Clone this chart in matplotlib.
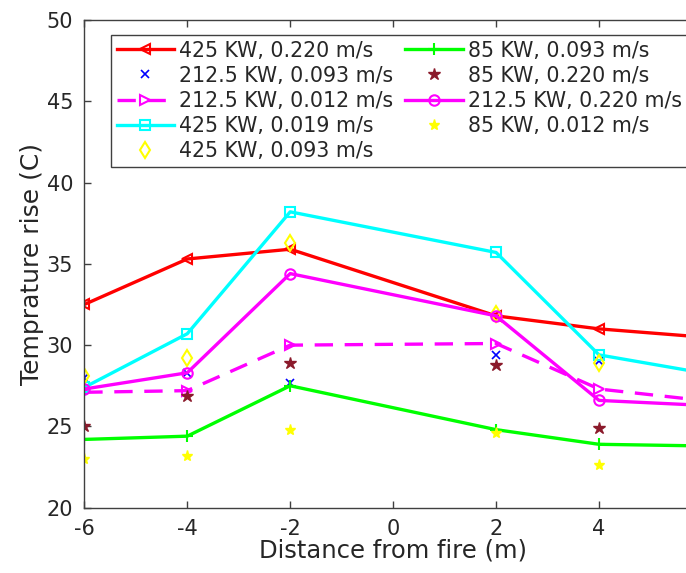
import matplotlib
matplotlib.use("Agg")
import matplotlib.pyplot as plt

x_full = [-6, -4, -2, 2, 4, 6]
x_pts = [-6, -4, -2, 2, 4]

red_425_0220 = [32.5, 35.3, 35.9, 31.8, 31.0, 30.5]
blue_2125_0093 = [28.0, 28.3, 27.7, 29.4, 29.0]
mag_2125_0012 = [27.1, 27.2, 30.0, 30.1, 27.3, 26.6]
cyan_425_0019 = [27.4, 30.7, 38.2, 35.7, 29.4, 28.3]
diam_425_0093 = [28.1, 29.2, 36.3, 31.9, 28.9]
green_85_0093 = [24.2, 24.4, 27.5, 24.8, 23.9, 23.8]
star_85_0220 = [25.0, 26.9, 28.9, 28.8, 24.9]
mag_2125_0220 = [27.3, 28.3, 34.4, 31.8, 26.6, 26.3]
ystar_85_0012 = [23.0, 23.2, 24.8, 24.6, 22.6]

labels = ["425 KW, 0.220 m/s", "212.5 KW, 0.093 m/s", "212.5 KW, 0.012 m/s",
          "425 KW, 0.019 m/s", "425 KW, 0.093 m/s", "85 KW, 0.093 m/s",
          "85 KW, 0.220 m/s", "212.5 KW, 0.220 m/s", "85 KW, 0.012 m/s"]
xticks = [-6, -4, -2, 0, 2, 4]
yticks = [20, 25, 30, 35, 40, 45, 50]

plt.rcParams['font.family'] = ['DejaVu Sans']
W, H = 686, 573
fig = plt.figure(figsize=(W/100, H/100), dpi=100)
ax = fig.add_axes([84.3/W, (H-507.7)/H, 617.7/W, 487.7/H])

lw = 2.4
ms = 7.5
ax.plot(x_full, red_425_0220, color='#ff0000', lw=lw, marker='<', ms=ms, mfc='none', mew=1.5, label=labels[0])
ax.plot(x_pts, blue_2125_0093, color='#0000ff', lw=0, marker='x', ms=6, mew=1.2, label=labels[1])
ax.plot(x_full, mag_2125_0012, color='#ff00ff', lw=lw, ls=(0, (5.5, 3.5)), marker='>', ms=ms, mfc='none', mew=1.5, label=labels[2])
ax.plot(x_full, cyan_425_0019, color='#00ffff', lw=lw, marker='s', ms=6.5, mfc='none', mew=1.5, label=labels[3])
ax.plot(x_pts, diam_425_0093, color='#ffff00', lw=0, marker='d', ms=ms+1, mfc='none', mew=1.5, label=labels[4])
ax.plot(x_full, green_85_0093, color='#00ff00', lw=lw, marker='+', ms=ms+1, mew=1.5, label=labels[5])
ax.plot(x_pts, star_85_0220, color='#8b1a2b', lw=0, marker='*', ms=9, mew=1.0, label=labels[6])
ax.plot(x_full, mag_2125_0220, color='#ff00ff', lw=lw, marker='o', ms=ms, mfc='none', mew=1.5, label=labels[7])
ax.plot(x_pts, ystar_85_0012, color='#ffff00', lw=0, marker='*', ms=8, mew=1.0, label=labels[8])

ax.set_xlim(-6, 6)
ax.set_ylim(20, 50)
ax.set_xticks(xticks)
ax.set_yticks(yticks)
ax.set_xticklabels([str(t) for t in xticks])
ax.tick_params(direction='in', length=5, width=1, colors='#404040', labelcolor='#262626',
               labelsize=15, top=True, right=True, pad=8)
for s in ax.spines.values():
    s.set_color('#404040')
    s.set_linewidth(1.0)

ax.set_xlabel('Distance from fire (m)', fontsize=17.5, color='#262626', labelpad=0)
ax.set_ylabel('Temprature rise (C)', fontsize=18, color='#262626', labelpad=2)

leg = ax.legend(ncol=2, loc='upper left', bbox_to_anchor=(111/W, 1-35/H), bbox_transform=fig.transFigure,
                borderaxespad=0, fancybox=False, edgecolor='#404040', framealpha=1, fontsize=14.8,
                handlelength=2.8, handletextpad=0.24, columnspacing=0.6, labelspacing=0.25, borderpad=0.27)
leg.get_frame().set_linewidth(1.0)
for t in leg.get_texts():
    t.set_color('#262626')

fig.savefig('out.png', dpi=100)
